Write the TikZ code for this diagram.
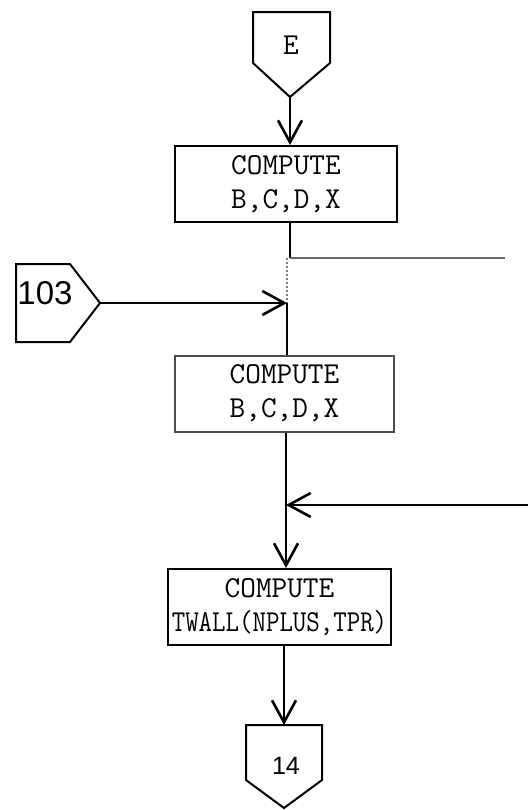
\documentclass[tikz,border=0pt]{standalone}
\usepackage{fontspec}
\setsansfont{Liberation Sans}
\usetikzlibrary{arrows.meta}
\newcommand{\boxfont}{\fontsize{15.2}{17}\selectfont\ttfamily\addfontfeature{FakeBold=1.3}}
\tikzset{
  flow/.style={line width=1.4pt,-{Straight Barb[length=11pt,width=12pt,line width=1.3pt]}},
  pipe/.style={line width=1.4pt},
  conn/.style={line width=1pt},
  box/.style={draw,line width=1pt,inner sep=0pt,minimum height=38pt,align=center,font=\boxfont},
}

\begin{document}
\begin{tikzpicture}[x=0.5pt,y=-0.5pt]
    \useasboundingbox (0,0) rectangle (528,810);
    \draw[conn] (253,12)--(330,12)--(330,63)--(290,97) coordinate (etip)--(253,63)--cycle;
    \node[font=\boxfont] (e) at (291,45) {E};
    \draw[conn] (16,264)--(70,264)--(100,303) coordinate (ptip)--(70,342)--(16,342)--cycle;
    \node[font=\fontsize{16.5}{18}\selectfont\sffamily] (p103) at (45,293) {103};
    \draw[conn] (246,725)--(322,725)--(322,780)--(284,808)--(246,780)--cycle;
    \node[font=\fontsize{12.5}{15}\selectfont\sffamily] (p14) at (286,766) {14};
    \coordinate (ftop) at (284,725);

    \node[box,minimum width=111pt] (b1) at (286,184) {COMPUTE\\B,C,D,X};
    \node[box,minimum width=109.5pt,draw=black!70] (b2) at (284.5,393.5) {COMPUTE\\B,C,D,X};
    \node[box,minimum width=111.5pt] (b3) at (279.5,607) {COMPUTE\\\scalebox{0.86}[1]{TWALL(NPLUS,TPR)}};

    \coordinate (out1) at (505,258);
    \coordinate (j1) at (287,303);
    \coordinate (j2) at (286,505);
    \coordinate (in2) at (528,505);

    \draw[flow] (etip)--(etip |- b1.north);
    \draw[pipe] (etip |- b1.south)--(etip |- out1);
    \draw[conn,black!60] (etip |- out1)--(out1);
    \draw[conn,densely dotted,black!50] (j1 |- out1)--(j1);
    \draw[flow] (ptip)--(j1);
    \draw[pipe] (j1)--(j1 |- b2.north);
    \draw[pipe] (j2 |- b2.south)--(j2);
    \draw[flow] (in2)--(j2);
    \draw[flow] (j2)--(j2 |- b3.north);
    \draw[flow] (ftop |- b3.south)--(ftop);
\end{tikzpicture}
\end{document}
